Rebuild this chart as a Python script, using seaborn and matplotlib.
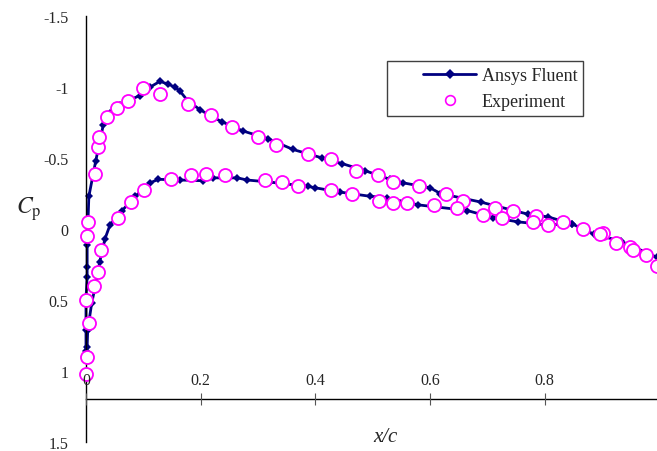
"""
Pressure coefficient distribution: Ansys Fluent vs experiment.
"""

import matplotlib
matplotlib.use("Agg")
import matplotlib.pyplot as plt
from matplotlib.lines import Line2D
from matplotlib.legend_handler import HandlerLine2D
import seaborn as sns

# Fluent, suction side (leading edge -> trailing edge)
fluent_upper_x = [0.000, 0.000, 0.000, 0.002, 0.002, 0.002, 0.005, 0.017, 0.030, 0.042,
                  0.060, 0.077, 0.094, 0.112, 0.129, 0.143, 0.155, 0.164, 0.178, 0.199,
                  0.220, 0.237, 0.274, 0.318, 0.361, 0.412, 0.447, 0.487, 0.530, 0.553,
                  0.600, 0.618, 0.688, 0.770, 0.806, 0.848, 0.885, 0.932, 0.996]
fluent_upper_cp = [0.86, 0.71, 0.49, 0.34, 0.27, 0.11, -0.23, -0.48, -0.73, -0.82,
                   -0.87, -0.91, -0.94, -1.00, -1.04, -1.02, -1.00, -0.97, -0.90, -0.84,
                   -0.79, -0.755, -0.69, -0.635, -0.56, -0.50, -0.46, -0.41, -0.35, -0.325,
                   -0.29, -0.25, -0.19, -0.105, -0.085, -0.035, 0.035, 0.085, 0.20]

# Fluent, pressure side
fluent_lower_x = [0.000, 0.002, 0.003, 0.010, 0.017, 0.024, 0.033, 0.042, 0.063, 0.086,
                  0.112, 0.126, 0.164, 0.204, 0.222, 0.264, 0.281, 0.321, 0.387, 0.400,
                  0.443, 0.496, 0.525, 0.579, 0.665, 0.709, 0.754, 0.800, 0.848]
fluent_lower_cp = [0.88, 0.83, 0.71, 0.52, 0.39, 0.23, 0.07, -0.03, -0.13, -0.23,
                   -0.325, -0.35, -0.345, -0.34, -0.36, -0.36, -0.345, -0.33, -0.30, -0.29,
                   -0.26, -0.23, -0.22, -0.17, -0.13, -0.08, -0.05, -0.03, -0.035]

# Experiment
exp_upper_x = [0.000, 0.002, 0.005, 0.000, 0.002, 0.003, 0.016, 0.021, 0.023, 0.037,
               0.054, 0.073, 0.099, 0.129, 0.178, 0.218, 0.255, 0.300, 0.332, 0.387,
               0.428, 0.471, 0.510, 0.536, 0.581, 0.627, 0.658, 0.714, 0.745, 0.784,
               0.831, 0.867, 0.902, 0.925, 0.949, 0.977, 0.996]
exp_upper_cp = [1.02, 0.90, 0.66, 0.50, 0.05, -0.05, -0.39, -0.58, -0.65, -0.79,
                -0.85, -0.90, -0.99, -0.95, -0.88, -0.80, -0.72, -0.65, -0.59, -0.53,
                -0.49, -0.41, -0.38, -0.33, -0.30, -0.25, -0.20, -0.15, -0.13, -0.09,
                -0.05, 0.00, 0.03, 0.10, 0.13, 0.18, 0.26]

exp_lower_x = [0.014, 0.021, 0.026, 0.056, 0.079, 0.101, 0.148, 0.183, 0.209, 0.243,
               0.312, 0.342, 0.370, 0.428, 0.464, 0.511, 0.536, 0.560, 0.606, 0.647,
               0.693, 0.726, 0.780, 0.806, 0.897, 0.953]
exp_lower_cp = [0.40, 0.30, 0.15, -0.08, -0.19, -0.275, -0.35, -0.38, -0.39, -0.38,
                -0.345, -0.33, -0.30, -0.275, -0.25, -0.20, -0.18, -0.18, -0.17, -0.15,
                -0.10, -0.08, -0.05, -0.03, 0.035, 0.15]

xtick_vals = [0, 0.2, 0.4, 0.6, 0.8]
xtick_labels = ["0", "0.2", "0.4", "0.6", "0.8"]
ytick_vals = [-1.5, -1, -0.5, 0, 0.5, 1, 1.5]
ytick_labels = ["-1.5", "-1", "-0.5", "0", "0.5", "1", "1.5"]
legend_labels = ["Ansys Fluent", "Experiment"]

NAVY = "#000080"
MAGENTA = "#FF00FF"

sns.set_style("white")
plt.rcParams["font.family"] = ["Liberation Serif", "DejaVu Serif"]
plt.rcParams["mathtext.fontset"] = "stix"

fig = plt.figure(figsize=(6.57, 4.52), dpi=100)
ax = fig.add_axes([86 / 657, 9 / 452, 573.5 / 657, 426 / 452])

for xs, ys in ((fluent_upper_x, fluent_upper_cp), (fluent_lower_x, fluent_lower_cp)):
    sns.lineplot(x=xs, y=ys, ax=ax, sort=False, estimator=None, color=NAVY,
                 linewidth=2, marker="D", markersize=4.5, markeredgewidth=0,
                 clip_on=False, zorder=2)

sns.scatterplot(x=exp_upper_x + exp_lower_x, y=exp_upper_cp + exp_lower_cp, ax=ax,
                marker="o", s=88, color="white", edgecolor=MAGENTA, linewidth=1.3,
                clip_on=False, zorder=3)

ax.set_xlim(0, 1)
ax.set_ylim(1.5, -1.5)

# x axis crosses at Cp = 1.2, labels sit above it
ax.spines["top"].set_position(("data", 1.2))
ax.spines["bottom"].set_visible(False)
ax.spines["right"].set_visible(False)
for side in ("top", "left"):
    ax.spines[side].set_color("black")
    ax.spines[side].set_linewidth(1.0)
ax.xaxis.set_ticks_position("top")
ax.xaxis.set_zorder(4)  # the "0" label sits on top of the circles

ax.set_xticks(xtick_vals, labels=xtick_labels)
ax.set_yticks(ytick_vals, labels=ytick_labels)
ax.tick_params(axis="x", direction="inout", length=8, width=0.8, pad=4,
               labelsize=11.5, color="#555555")
ax.tick_params(axis="y", direction="out", length=4.5, width=0.8, pad=8,
               labelsize=11.5, color="black")

ax.set_xlabel("")
ax.text(0.522, 1.46, "x/c", style="italic", fontsize=15, ha="center", va="center")
ax.set_ylabel(r"$C_{\mathrm{p}}$", rotation=0, fontsize=17, ha="center", va="center")
ax.yaxis.set_label_coords(-0.1, 0.55)

handles = [
    Line2D([], [], color=NAVY, linewidth=2, marker="D", markersize=5.5, markeredgewidth=0),
    Line2D([], [], linestyle="none", marker="o", markersize=7, markerfacecolor="white",
           markeredgecolor=MAGENTA, markeredgewidth=1.2),
]
leg = ax.legend(handles, legend_labels, loc="upper left", bbox_to_anchor=(0.525, 0.894),
                borderaxespad=0, fontsize=13, frameon=True, fancybox=False,
                edgecolor="#404040", framealpha=1, borderpad=0.32, handlelength=4.63,
                handletextpad=0.28, labelspacing=0.51,
                handler_map={h: HandlerLine2D(xpad=1.66) for h in handles})
leg.get_frame().set_linewidth(1.0)

fig.savefig("out.png", dpi=100)
